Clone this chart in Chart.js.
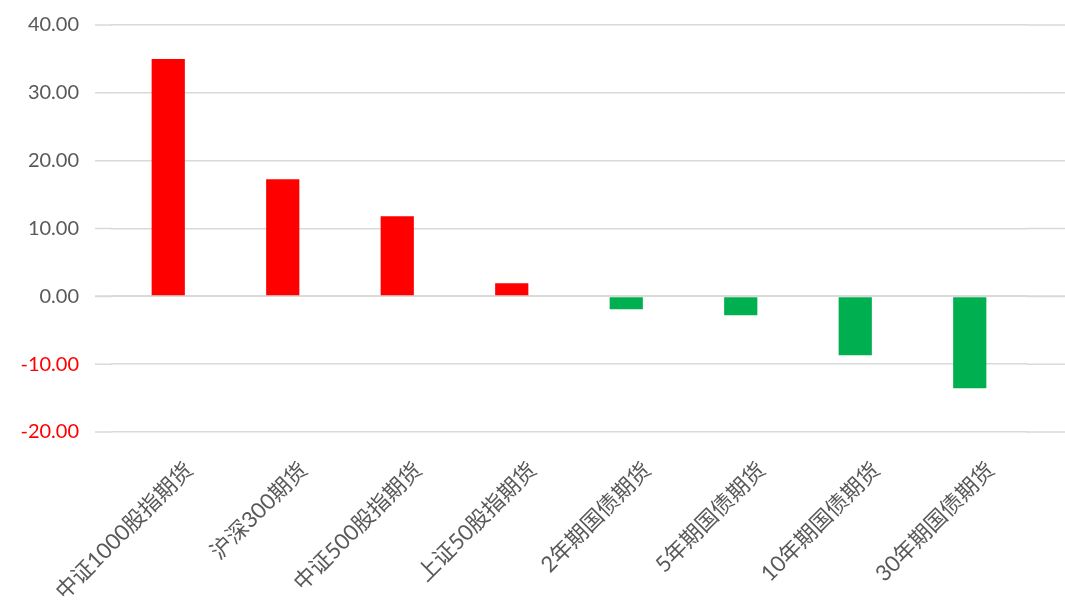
<!DOCTYPE html>
<html>
<head>
<meta charset="utf-8">
<script src="https://cdn.jsdelivr.net/npm/chart.js@4/dist/chart.umd.min.js"></script>
<style>
  html, body { margin: 0; padding: 0; background: #fff; }
  #wrap { width: 1065px; height: 611px; }
</style>
</head>
<body>
<div id="wrap"><canvas id="futuresChart"></canvas></div>
<script>
// categories and values
var labels = ['中证1000股指期货', '沪深300期货', '中证500股指期货', '上证50股指期货',
              '2年期国债期货', '5年期国债期货', '10年期国债期货', '30年期国债期货'];
var values = [34.97, 17.26, 11.8, 1.92, -1.92, -2.8, -8.7, -13.55];
var yTicks = [-20, -10, 0, 10, 20, 30, 40];

var fontFamily = 'Lato, "Noto Sans CJK SC", sans-serif';

// the horizontal gridlines reach a little left of the first category
// and run on to the right edge of the canvas
var gridToEdge = {
    id: 'gridToEdge',
    beforeDatasetsDraw: function (chart) {
        var y = chart.scales.y, c = chart.ctx, area = chart.chartArea;
        c.save();
        c.strokeStyle = '#D9D9D9';
        yTicks.forEach(function (v) {
            c.lineWidth = v === 0 ? 2 : 1.5;
            var py = y.getPixelForValue(v);
            c.beginPath();
            c.moveTo(area.left - 16, py);
            c.lineTo(area.left + 1, py);
            c.moveTo(area.right - 1, py);
            c.lineTo(chart.width, py);
            c.stroke();
        });
        c.restore();
    }
};

document.addEventListener('DOMContentLoaded', () => {
    var ctx = document.getElementById('futuresChart');
    var options = {
        type: 'bar',
        data: {
            labels: labels,
            datasets: [{
                label: '',
                data: values,
                backgroundColor: values.map(v => v >= 0 ? '#FF0000' : '#00B050'),
                categoryPercentage: 1,
                barPercentage: 0.29
            }]
        },
        options: {
            responsive: true,
            maintainAspectRatio: false,
            animation: false,
            layout: { padding: { top: 25, right: 38, bottom: 0, left: 0 } },
            scales: {
                x: {
                    grid: { display: false, drawTicks: false },
                    border: { display: false },
                    ticks: {
                        minRotation: 45,
                        maxRotation: 45,
                        padding: 25,
                        labelOffset: 21,
                        color: '#595959',
                        font: { size: 22, family: fontFamily }
                    },
                    afterFit: function (s) {
                        s.height = 179;
                        s.paddingLeft = 0;
                        s.paddingRight = 0;
                    }
                },
                y: {
                    min: -20,
                    max: 40,
                    afterBuildTicks: function (s) { s.ticks = yTicks.map(v => ({ value: v })); },
                    grid: {
                        drawTicks: false,
                        color: '#D9D9D9',
                        lineWidth: function (c) { return c.tick && c.tick.value === 0 ? 2 : 1.5; }
                    },
                    border: { display: false },
                    ticks: {
                        padding: 32,
                        color: function (c) { return c.tick.value < 0 ? '#FF0000' : '#595959'; },
                        font: { size: 20, family: fontFamily },
                        callback: function (val) { return Number(val).toFixed(2); }
                    },
                    afterFit: function (s) {
                        s.width = 111;
                        s.paddingTop = 0;
                        s.paddingBottom = 0;
                    }
                }
            },
            plugins: {
                legend: { display: false },
                title: { display: false },
                tooltip: { enabled: false }
            }
        },
        plugins: [gridToEdge]
    };

    let futuresChart = new Chart(ctx, options);
});
</script>
</body>
</html>
